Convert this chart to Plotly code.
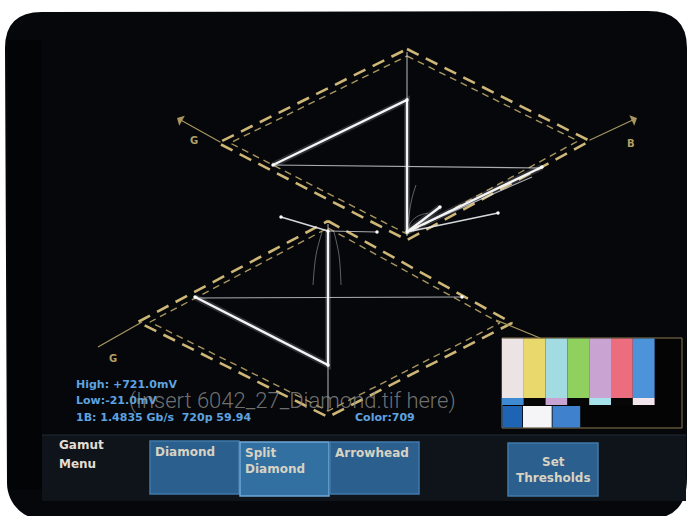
import plotly.graph_objects as go

# ---------------- data (pixel space) ----------------
# upper diamond (G / B), outer and inner dashed gamut limits
up_outer_x = [407, 590, 407, 218, 407]
up_outer_y = [49, 141, 240, 143, 49]
up_inner_x = [407, 578, 407, 230, 407]
up_inner_y = [56, 141, 234, 143, 56]
# lower diamond (G / R)
lo_outer_x = [328, 512, 328, 138, 328]
lo_outer_y = [221, 323, 417, 322, 221]
lo_inner_x = [328, 500, 328, 150, 328]
lo_inner_y = [228, 323, 411, 322, 228]

# axis arrows of the upper diamond: (tail, head)
arrow_tail_x = [222, 588]
arrow_tail_y = [143, 141]
arrow_head_x = [177, 637]
arrow_head_y = [118, 118]
# plain axis lines of the lower diamond (the R end disappears behind the bar window)
axis_line_x = [142, 98, None, 496, 540]
axis_line_y = [322, 347, None, 320, 338]
axis_labels = ["G", "B", "G"]
axis_label_x = [194, 631, 113]
axis_label_y = [140, 143, 358]

# signal traces (white)
bright_x = [273, 407, 407, None, 407, 542, None, 407, 440, None,
            195, 328, 328]
bright_y = [165, 100, 232, None, 232, 167, None, 232, 207, None,
            297, 365, 231]
medium_x = [281, 328, None, 407, 498]
medium_y = [217, 231, None, 232, 213]
thin_x = [407, 407, None, 273, 542, None, 410, 532, None,
          328, 328, None, 195, 462, None, 328, 377]
thin_y = [52, 236, None, 165, 168, None, 230, 177, None,
          224, 410, None, 298, 297, None, 231, 232]
curve_x = [407, 409, 412, 416, None, 407, 411, 418, 428, None,
           322, 316, 313, None, 334, 339, 341]
curve_y = [232, 215, 198, 185, None, 232, 222, 216, 213, None,
           232, 255, 285, None, 232, 255, 285]
dot_x = [273, 407, 542, 440, 498, 195, 328, 281, 377, 462, 407, 328]
dot_y = [165, 100, 167, 207, 213, 297, 365, 217, 232, 297, 232, 231]

# colour bars
bar_colors = ['#ebe3e4', '#e9d86c', '#a3dbe3', '#8fd05f', '#c9a4d3', '#ec6e7e', '#4d93d9']
mid_colors = ['#3e8bd3', '#060606', '#c9a4d3', '#060606', '#a7e1ea', '#060606', '#f2e5eb']
pluge_colors = ['#1f64b4', '#f5f5f7', '#4081cd']
pluge_widths = [20.5, 29.5, 28.5]

# read-outs and menu
readout_lines = ["High: +721.0mV", "Low:-21.0mV", "1B: 1.4835 Gb/s  720p 59.94"]
color_space = "Color:709"
menu_title = ["Gamut", "Menu"]
buttons = ["Diamond", "Split<br>Diamond", "Arrowhead", "Set<br>Thresholds"]
placeholder = "(Insert 6042_27_Diamond.tif here)"

# ---------------- figure ----------------
fig = go.Figure()
shapes = []
ann = []
BOLD = "DejaVu Sans"

# screen body (rounded, photographed)
shapes.append(dict(type="path", layer="below", line=dict(width=0), fillcolor="#05070a",
                   path="M 5,48 Q 5,12 42,12 L 648,11 Q 687,11 687,48 L 687,478 "
                        "Q 687,519 648,519 L 41,519 C 22,519 7,502 7,483 Z"))
# dark left strip
shapes.append(dict(type="rect", layer="below", x0=8, x1=42, y0=40, y1=490,
                   line=dict(width=0), fillcolor="#030405"))
# menu bar
shapes.append(dict(type="rect", layer="below", x0=42, x1=686, y0=435, y1=501,
                   line=dict(width=0), fillcolor="#0f141a"))
shapes.append(dict(type="line", layer="below", x0=42, x1=686, y0=435, y1=435,
                   line=dict(color="#222a33", width=1)))

# diamonds
def dashed(xs, ys, width, color, dash):
    fig.add_trace(go.Scatter(x=xs, y=ys, mode="lines", hoverinfo="skip",
                             line=dict(color=color, width=width, dash=dash)))

for xs, ys in [(up_outer_x, up_outer_y), (lo_outer_x, lo_outer_y)]:
    dashed(xs, ys, 2.6, "#cdb676", "13px,8px")
for xs, ys in [(up_inner_x, up_inner_y), (lo_inner_x, lo_inner_y)]:
    dashed(xs, ys, 1.4, "#a8955f", "7px,5px")

# axes
fig.add_trace(go.Scatter(x=axis_line_x, y=axis_line_y, mode="lines", hoverinfo="skip",
                         line=dict(color="#a8965e", width=1.3)))
for tx, ty, hx, hy in zip(arrow_tail_x, arrow_tail_y, arrow_head_x, arrow_head_y):
    ann.append(dict(x=hx, y=hy, ax=tx, ay=ty, xref="x", yref="y", axref="x", ayref="y",
                    showarrow=True, arrowhead=1, arrowsize=1.6, arrowwidth=1.2,
                    arrowcolor="#a8965e", text=""))
for lab, lx, ly in zip(axis_labels, axis_label_x, axis_label_y):
    ann.append(dict(x=lx, y=ly, xref="x", yref="y", text=lab, showarrow=False,
                    font=dict(family=BOLD, size=10, weight="bold", color="#b3a066")))

# signal traces with glow
fig.add_trace(go.Scatter(x=bright_x, y=bright_y, mode="lines", hoverinfo="skip",
                         line=dict(color="rgba(255,255,255,0.16)", width=6)))
fig.add_trace(go.Scatter(x=thin_x, y=thin_y, mode="lines", hoverinfo="skip",
                         line=dict(color="rgba(225,228,235,0.75)", width=1.1)))
fig.add_trace(go.Scatter(x=curve_x, y=curve_y, mode="lines", hoverinfo="skip",
                         line=dict(color="rgba(200,205,215,0.5)", width=0.9, shape="spline")))
fig.add_trace(go.Scatter(x=medium_x, y=medium_y, mode="lines", hoverinfo="skip",
                         line=dict(color="rgba(235,238,242,0.9)", width=1.6)))
fig.add_trace(go.Scatter(x=bright_x, y=bright_y, mode="lines", hoverinfo="skip",
                         line=dict(color="#f4f4f6", width=2.4)))
fig.add_trace(go.Scatter(x=dot_x, y=dot_y, mode="markers", hoverinfo="skip",
                         marker=dict(color="#ffffff", size=3.5)))

# colour bar window
bx0, bx1, by0, by1 = 502, 682, 338, 428
shapes.append(dict(type="rect", layer="above", x0=bx0, x1=bx1, y0=by0, y1=by1,
                   fillcolor="#040404", line=dict(color="#8a7a4e", width=1)))
bw = 21.8
for i, c in enumerate(bar_colors):
    shapes.append(dict(type="rect", layer="above", x0=bx0 + i * bw, x1=bx0 + (i + 1) * bw,
                       y0=by0 + 0.5, y1=398, fillcolor=c, line=dict(width=0)))
for i, c in enumerate(mid_colors):
    shapes.append(dict(type="rect", layer="above", x0=bx0 + i * bw, x1=bx0 + (i + 1) * bw,
                       y0=398, y1=405, fillcolor=c, line=dict(width=0)))
px = bx0 + 0.5
for c, w in zip(pluge_colors, pluge_widths):
    shapes.append(dict(type="rect", layer="above", x0=px, x1=px + w - 0.8,
                       y0=406, y1=427.5, fillcolor=c, line=dict(width=0)))
    px += w

# read-outs
for i, t in enumerate(readout_lines):
    ann.append(dict(x=74, y=384 + i * 16.5, xref="x", yref="y", text=t, showarrow=False,
                    xanchor="left", yanchor="middle",
                    font=dict(family=BOLD, size=11, weight="bold", color="#5fa2e0")))
ann.append(dict(x=353, y=417, xref="x", yref="y", text=color_space, showarrow=False,
                xanchor="left", yanchor="middle",
                font=dict(family=BOLD, size=11, weight="bold", color="#5fa2e0")))

# menu
for i, t in enumerate(menu_title):
    ann.append(dict(x=57, y=445 + i * 19, xref="x", yref="y", text=t, showarrow=False,
                    xanchor="left", yanchor="middle",
                    font=dict(family=BOLD, size=12, weight="bold", color="#e2ddd2")))

btn_x0 = [150, 240, 330, 508]
btn_x1 = [239, 329, 419, 598]
btn_y0 = [441, 442, 442, 443]
btn_y1 = [494, 496, 494, 496]
for k, (t, x0, x1, y0, y1) in enumerate(zip(buttons, btn_x0, btn_x1, btn_y0, btn_y1)):
    sel = (k == 1)
    shapes.append(dict(type="rect", layer="above", x0=x0, x1=x1, y0=y0, y1=y1,
                       fillcolor="#3270a2" if sel else "#2b5f8e",
                       line=dict(color="#6fa6d6" if sel else "#3f79aa", width=1.5)))
    if k == 3:
        ann.append(dict(x=(x0 + x1) / 2, y=470, xref="x", yref="y", text=t, showarrow=False,
                        xanchor="center", yanchor="middle", align="center",
                        font=dict(family=BOLD, size=12, weight="bold", color="#d8d2c2")))
    else:
        ann.append(dict(x=x0 + 3, y=y0 + 2, xref="x", yref="y", text=t, showarrow=False,
                        xanchor="left", yanchor="top", align="left",
                        font=dict(family=BOLD, size=12, weight="bold", color="#d8d2c2")))

# placeholder overlay text
ann.append(dict(x=292, y=401, xref="x", yref="y", text=placeholder, showarrow=False,
                xanchor="center", yanchor="middle",
                font=dict(family="Roboto", size=22, weight=300, color="rgba(140,140,140,0.8)")))

fig.update_layout(
    width=688, height=516, margin=dict(l=0, r=0, t=0, b=0),
    paper_bgcolor="white", plot_bgcolor="white", showlegend=False,
    xaxis=dict(range=[0, 688], visible=False, fixedrange=True),
    yaxis=dict(range=[516, 0], visible=False, fixedrange=True),
    shapes=shapes, annotations=ann,
)
fig.write_html("out.html", config={"displayModeBar": False})
